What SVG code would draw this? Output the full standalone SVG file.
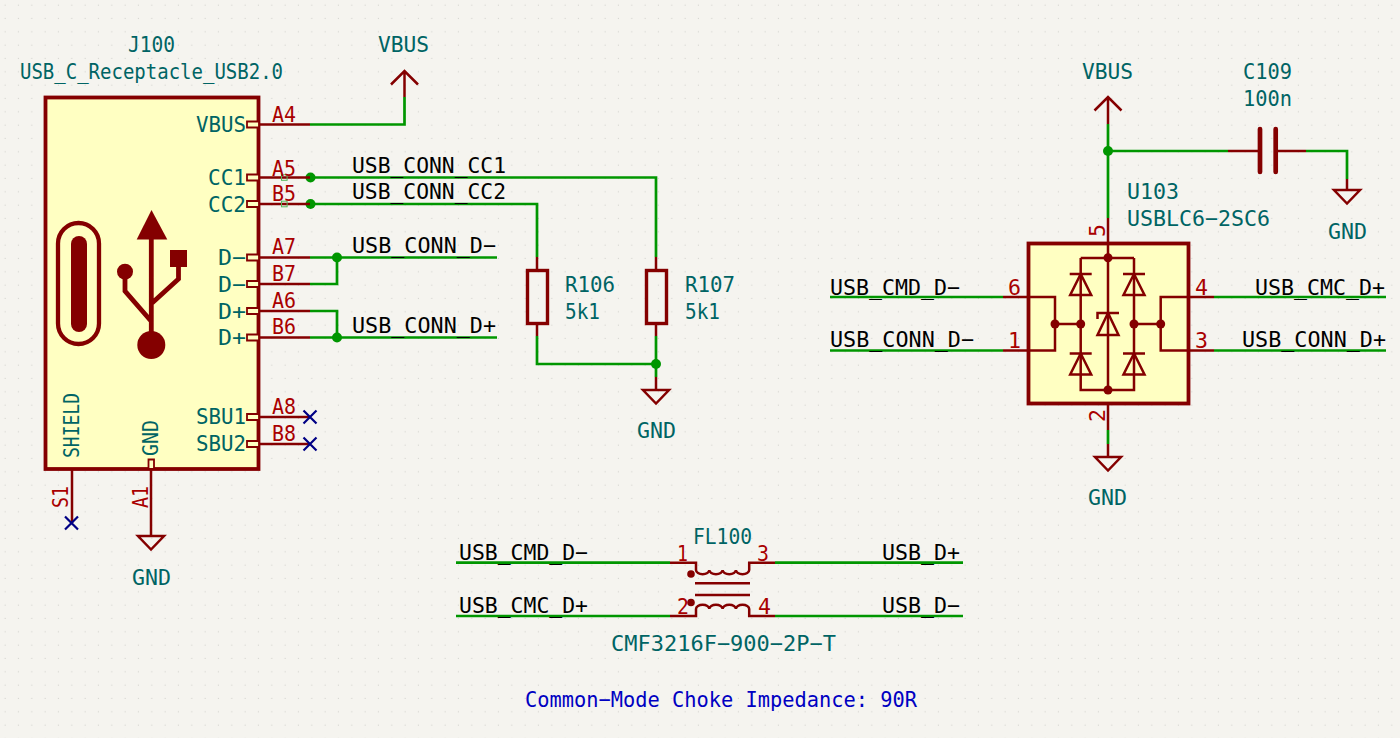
<svg xmlns="http://www.w3.org/2000/svg" width="1400" height="738" viewBox="0 0 1400 738">
<style>
text{font-family:"DejaVu Sans Mono","Liberation Mono",monospace;font-size:21px}
text:not([transform]){transform:translateY(1px)}
.t{fill:#006464}.p{fill:#a90000}.b{fill:#0000c2}.k{fill:#000}
.w{fill:none;stroke:#009600;stroke-width:2.7}
.r{fill:none;stroke:#840000;stroke-width:2.5}
.o{fill:none;stroke:#840000;stroke-width:4.8}
.h{fill:#ffffc2;stroke:#840000;stroke-width:1.8}
.body{fill:#ffffc2;stroke:#840000;stroke-width:3.8}
.f{fill:#840000;stroke:none}
.j{fill:#009600}
.nc{fill:none;stroke:#000084;stroke-width:2.2}
</style>
<defs>
<pattern id="g" width="13.333" height="13.333" patternUnits="userSpaceOnUse"><rect x="4.6" y="4.6" width="1.1" height="1.1" fill="#d4d4cf"/></pattern>
<g id="gnd"><path class="r" d="M-13 0H13L0 13.500Z"/></g>
<g id="di"><path class="r" d="M-11 0H11M0 0L-10.500 21H10.500Z"/></g>
</defs>
<rect width="1400" height="738" fill="#f5f4ef"/>
<rect width="1400" height="738" fill="url(#g)"/>
<g id="connectors">
<path class="w" d="M310 124.500H404.500V97"/>
<path class="w" d="M310 177.500H656V257"/>
<path class="w" d="M310 204H537V257"/>
<path class="w" d="M310 257.500H497M310 284H337V257.500"/>
<path class="w" d="M310 311H337V337.500M310 337.500H497"/>
<path class="w" d="M537 336V364H656M656 336V377"/>
<path class="w" d="M1108 124V218M1108 151H1228M1306 151H1347V179M1108 430V444"/>
<path class="w" d="M830 297H1003M830 350.500H1003M1214 297H1386M1214 350.500H1386"/>
<path class="w" d="M456 562.700H670M775 562.700H963M456 616H670M775 616H963"/>
<circle class="j" cx="310.500" cy="177.500" r="5"/><circle class="j" cx="310.500" cy="204" r="5"/>
<circle class="j" cx="337" cy="257.500" r="5"/><circle class="j" cx="337" cy="337.500" r="5"/>
<circle class="j" cx="656" cy="364" r="5"/><circle class="j" cx="1108" cy="151" r="5"/>
</g>
<g id="J100">
<rect class="body" x="45.500" y="97.500" width="213" height="371.500"/>
<path class="r" d="M259 124.500H310M259 177.500H310M259 204H310M259 257.500H310M259 284H310M259 311H310M259 337.500H310M259 417H310M259 444H310M72 469V523M151 469V536"/>
<path class="h" d="M247 121.500h12v6h-12zM247 174.500h12v6h-12zM247 201h12v6h-12zM247 254.500h12v6h-12zM247 281h12v6h-12zM247 308h12v6h-12zM247 334.500h12v6h-12zM247 414h12v6h-12zM247 441h12v6h-12zM148.500 459.500h5.500v9.500h-5.500z"/>
<rect x="281.500" y="174.700" width="5.600" height="5.600" fill="none" stroke="#55b85a" stroke-width="1"/>
<rect x="281.500" y="201.200" width="5.600" height="5.600" fill="none" stroke="#55b85a" stroke-width="1"/>
<rect x="58" y="223" width="41" height="121" rx="20.500" fill="none" stroke="#840000" stroke-width="4.300"/>
<rect class="f" x="71" y="236" width="16" height="96" rx="8"/>
<path class="f" d="M151.500 210L136.700 239.500H167.300Z"/>
<path class="o" d="M151.300 235V340M125 272V291L151 321M178.500 265V279L151 304"/>
<circle class="f" cx="151.300" cy="345" r="14"/>
<circle class="f" cx="125" cy="271.700" r="8"/>
<rect class="f" x="170" y="250" width="17" height="17"/>
<text class="t" x="128" y="51" textLength="47" lengthAdjust="spacingAndGlyphs">J100</text>
<text class="t" x="20" y="78" textLength="263" lengthAdjust="spacingAndGlyphs">USB_C_Receptacle_USB2.0</text>
<text class="t" x="196" y="131" textLength="50" lengthAdjust="spacingAndGlyphs">VBUS</text>
<text class="t" x="208" y="184" textLength="38" lengthAdjust="spacingAndGlyphs">CC1</text>
<text class="t" x="208" y="211" textLength="38" lengthAdjust="spacingAndGlyphs">CC2</text>
<text class="t" x="218" y="264" textLength="28" lengthAdjust="spacingAndGlyphs">D−</text>
<text class="t" x="218" y="291" textLength="28" lengthAdjust="spacingAndGlyphs">D−</text>
<text class="t" x="218" y="318" textLength="28" lengthAdjust="spacingAndGlyphs">D+</text>
<text class="t" x="218" y="344" textLength="28" lengthAdjust="spacingAndGlyphs">D+</text>
<text class="t" x="196" y="423" textLength="50" lengthAdjust="spacingAndGlyphs">SBU1</text>
<text class="t" x="196" y="450" textLength="50" lengthAdjust="spacingAndGlyphs">SBU2</text>
<text class="t" transform="translate(79 458) rotate(-90)" textLength="65" lengthAdjust="spacingAndGlyphs">SHIELD</text>
<text class="t" transform="translate(158 456) rotate(-90)" textLength="36" lengthAdjust="spacingAndGlyphs">GND</text>
<text class="p" x="272" y="121" textLength="24" lengthAdjust="spacingAndGlyphs">A4</text>
<text class="p" x="272" y="175" textLength="24" lengthAdjust="spacingAndGlyphs">A5</text>
<text class="p" x="272" y="200" textLength="24" lengthAdjust="spacingAndGlyphs">B5</text>
<text class="p" x="272" y="253" textLength="24" lengthAdjust="spacingAndGlyphs">A7</text>
<text class="p" x="272" y="280" textLength="24" lengthAdjust="spacingAndGlyphs">B7</text>
<text class="p" x="272" y="307" textLength="24" lengthAdjust="spacingAndGlyphs">A6</text>
<text class="p" x="272" y="333" textLength="24" lengthAdjust="spacingAndGlyphs">B6</text>
<text class="p" x="272" y="413" textLength="24" lengthAdjust="spacingAndGlyphs">A8</text>
<text class="p" x="272" y="440" textLength="24" lengthAdjust="spacingAndGlyphs">B8</text>
<text class="p" transform="translate(68 508) rotate(-90)" textLength="22" lengthAdjust="spacingAndGlyphs">S1</text>
<text class="p" transform="translate(148 508) rotate(-90)" textLength="22" lengthAdjust="spacingAndGlyphs">A1</text>
<path class="nc" d="M303.500 410.500L316.500 423.500M316.500 410.500L303.500 423.500M303.500 437.500L316.500 450.500M316.500 437.500L303.500 450.500M65 516.500L78 529.500M78 516.500L65 529.500"/>
</g>
<g id="VBUS1">
<path class="r" d="M404.500 97V71M391 84.500L404.500 71L418 84.500"/>
<text class="t" x="378" y="51" textLength="51" lengthAdjust="spacingAndGlyphs">VBUS</text>
</g>
<g id="GND1">
<use href="#gnd" x="151" y="536"/>
<text class="t" x="132" y="584" textLength="39" lengthAdjust="spacingAndGlyphs">GND</text>
</g>
<g id="netlabels">
<text class="k" x="352" y="172" textLength="154" lengthAdjust="spacingAndGlyphs">USB_CONN_CC1</text>
<text class="k" x="352" y="198" textLength="154" lengthAdjust="spacingAndGlyphs">USB_CONN_CC2</text>
<text class="k" x="352" y="252" textLength="144" lengthAdjust="spacingAndGlyphs">USB_CONN_D−</text>
<text class="k" x="352" y="332" textLength="144" lengthAdjust="spacingAndGlyphs">USB_CONN_D+</text>
<text class="k" x="830" y="294" textLength="130" lengthAdjust="spacingAndGlyphs">USB_CMD_D−</text>
<text class="k" x="830" y="346" textLength="144" lengthAdjust="spacingAndGlyphs">USB_CONN_D−</text>
<text class="k" x="1255" y="294" textLength="130" lengthAdjust="spacingAndGlyphs">USB_CMC_D+</text>
<text class="k" x="1242" y="346" textLength="144" lengthAdjust="spacingAndGlyphs">USB_CONN_D+</text>
<text class="k" x="459" y="559" textLength="129" lengthAdjust="spacingAndGlyphs">USB_CMD_D−</text>
<text class="k" x="459" y="612" textLength="129" lengthAdjust="spacingAndGlyphs">USB_CMC_D+</text>
<text class="k" x="882" y="559" textLength="78" lengthAdjust="spacingAndGlyphs">USB_D+</text>
<text class="k" x="882" y="612" textLength="78" lengthAdjust="spacingAndGlyphs">USB_D−</text>
</g>
<g id="R106">
<path class="r" d="M537 257V271M537 323V336"/>
<rect x="527.500" y="270.500" width="20" height="53" fill="none" stroke="#840000" stroke-width="3.400"/>
<text class="t" x="565" y="291" textLength="50" lengthAdjust="spacingAndGlyphs">R106</text>
<text class="t" x="565" y="318" textLength="35" lengthAdjust="spacingAndGlyphs">5k1</text>
</g>
<g id="R107">
<path class="r" d="M656 257V271M656 323V336"/>
<rect x="646.500" y="270.500" width="20" height="53" fill="none" stroke="#840000" stroke-width="3.400"/>
<text class="t" x="685" y="291" textLength="50" lengthAdjust="spacingAndGlyphs">R107</text>
<text class="t" x="685" y="318" textLength="35" lengthAdjust="spacingAndGlyphs">5k1</text>
</g>
<g id="GND2">
<path class="r" d="M656 377V390"/>
<use href="#gnd" x="656" y="390"/>
<text class="t" x="637" y="437" textLength="39" lengthAdjust="spacingAndGlyphs">GND</text>
</g>
<g id="VBUS2">
<path class="r" d="M1108 124V97M1094.500 110.500L1108 97L1121.500 110.500"/>
<text class="t" x="1082" y="78" textLength="51" lengthAdjust="spacingAndGlyphs">VBUS</text>
</g>
<g id="C109">
<path class="r" d="M1228 151H1258M1278 151H1306"/>
<path d="M1260 129V172M1275.700 129V172" fill="none" stroke="#840000" stroke-width="4.700" stroke-linecap="round"/>
<text class="t" x="1243" y="78" textLength="49" lengthAdjust="spacingAndGlyphs">C109</text>
<text class="t" x="1243" y="105" textLength="49" lengthAdjust="spacingAndGlyphs">100n</text>
</g>
<g id="GND3">
<path class="r" d="M1347 179V190"/>
<use href="#gnd" x="1347" y="190"/>
<text class="t" x="1328" y="238" textLength="39" lengthAdjust="spacingAndGlyphs">GND</text>
</g>
<g id="U103">
<rect class="body" x="1028.500" y="243.500" width="160" height="160"/>
<path class="r" d="M1108 218V390M1108 403V430M1003 297H1055V350.500H1003M1214 297H1160.700V350.500H1214M1055 324H1080.700M1134 324H1160.700M1080.700 258H1134M1080.700 258V390H1134V258"/>
<use href="#di" x="1080.700" y="274"/><use href="#di" x="1134" y="274"/>
<use href="#di" x="1080.700" y="353.500"/><use href="#di" x="1134" y="353.500"/>
<path class="r" d="M1097.500 319V313H1119M1108 313L1097.500 335H1118.500Z"/>
<g class="f"><circle cx="1108" cy="257.700" r="4.500"/><circle cx="1108" cy="390" r="4.500"/><circle cx="1055" cy="324" r="4.500"/><circle cx="1080.700" cy="324" r="4.500"/><circle cx="1134" cy="324" r="4.500"/><circle cx="1160.700" cy="324" r="4.500"/></g>
<text class="t" x="1127" y="198" textLength="52" lengthAdjust="spacingAndGlyphs">U103</text>
<text class="t" x="1127" y="225" textLength="143" lengthAdjust="spacingAndGlyphs">USBLC6−2SC6</text>
<text class="p" x="1008" y="294" textLength="13" lengthAdjust="spacingAndGlyphs">6</text>
<text class="p" x="1008" y="347" textLength="13" lengthAdjust="spacingAndGlyphs">1</text>
<text class="p" x="1195" y="294" textLength="13" lengthAdjust="spacingAndGlyphs">4</text>
<text class="p" x="1195" y="347" textLength="13" lengthAdjust="spacingAndGlyphs">3</text>
<text class="p" transform="translate(1105 237) rotate(-90)" textLength="13" lengthAdjust="spacingAndGlyphs">5</text>
<text class="p" transform="translate(1105 422) rotate(-90)" textLength="13" lengthAdjust="spacingAndGlyphs">2</text>
</g>
<g id="GND4">
<path class="r" d="M1108 444V457"/>
<use href="#gnd" x="1108" y="457"/>
<text class="t" x="1088" y="504" textLength="39" lengthAdjust="spacingAndGlyphs">GND</text>
</g>
<g id="FL100">
<path class="r" d="M670 562.700H696V570A6.600 4.300 0 0 0 709.300 570A6.600 4.300 0 0 0 722.600 570A6.600 4.300 0 0 0 735.900 570A6.600 4.300 0 0 0 749.200 570V562.700H775"/>
<path class="r" d="M670 616H696V609A6.600 4.300 0 0 1 709.300 609A6.600 4.300 0 0 1 722.600 609A6.600 4.300 0 0 1 735.900 609A6.600 4.300 0 0 1 749.200 609V616H775"/>
<path class="r" d="M695 583.300H750M695 595H750"/>
<circle class="f" cx="691" cy="574" r="3.800"/><circle class="f" cx="691" cy="602.500" r="3.800"/>
<text class="p" x="677" y="560" textLength="11" lengthAdjust="spacingAndGlyphs">1</text>
<text class="p" x="757" y="560" textLength="12" lengthAdjust="spacingAndGlyphs">3</text>
<text class="p" x="677" y="613" textLength="12" lengthAdjust="spacingAndGlyphs">2</text>
<text class="p" x="758" y="613" textLength="13" lengthAdjust="spacingAndGlyphs">4</text>
<text class="t" x="693" y="543" textLength="59" lengthAdjust="spacingAndGlyphs">FL100</text>
<text class="t" x="611" y="650" textLength="225" lengthAdjust="spacingAndGlyphs">CMF3216F−900−2P−T</text>
</g>
<text class="b" x="525" y="706" textLength="392" lengthAdjust="spacingAndGlyphs">Common−Mode Choke Impedance: 90R</text>
</svg>
